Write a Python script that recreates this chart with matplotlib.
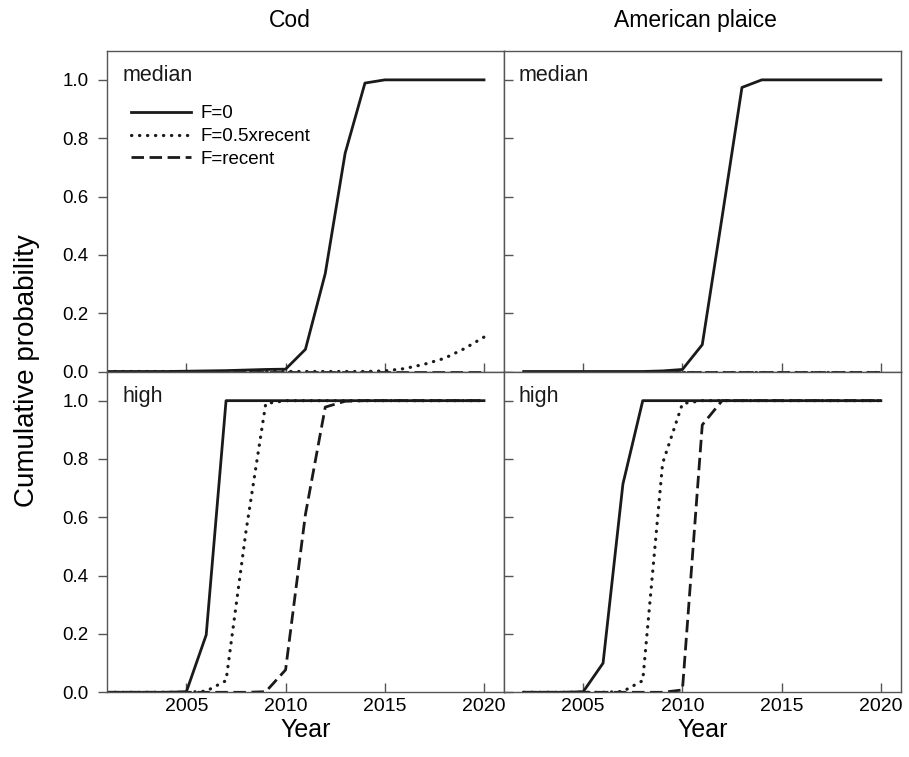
import numpy as np
import matplotlib
matplotlib.use("Agg")
import matplotlib.pyplot as plt

plt.rcParams["font.family"] = ["Liberation Sans", "DejaVu Sans"]

# === data ===
cod_years = np.arange(2001, 2021)
plaice_years = np.arange(2002, 2021)

# Cod, median recruitment
cod_med_f0 = [0, 0, 0, 0, 0.001, 0.002, 0.003, 0.005, 0.007, 0.008,
              0.076, 0.336, 0.748, 0.989, 1, 1, 1, 1, 1, 1]
cod_med_half = [0, 0, 0, 0, 0, 0, 0, 0, 0, 0,
                0, 0, 0, 0, 0.002, 0.010, 0.025, 0.045, 0.078, 0.118]
cod_med_recent = [0] * 20

# Cod, high recruitment
cod_high_f0 = [0, 0, 0, 0, 0.002, 0.197, 1, 1, 1, 1,
               1, 1, 1, 1, 1, 1, 1, 1, 1, 1]
cod_high_half = [0, 0, 0, 0, 0, 0.004, 0.04, 0.55, 0.99, 1,
                 1, 1, 1, 1, 1, 1, 1, 1, 1, 1]
cod_high_recent = [0, 0, 0, 0, 0, 0, 0, 0, 0.002, 0.077,
                   0.61, 0.978, 0.998, 1, 1, 1, 1, 1, 1, 1]

# American plaice, median recruitment
pla_med_f0 = [0, 0, 0, 0, 0, 0, 0, 0.002, 0.007, 0.092,
              0.53, 0.974, 1, 1, 1, 1, 1, 1, 1]
pla_med_half = [0] * 19
pla_med_recent = [0] * 19

# American plaice, high recruitment
pla_high_f0 = [0, 0, 0, 0.002, 0.10, 0.714, 1, 1, 1, 1,
               1, 1, 1, 1, 1, 1, 1, 1, 1]
pla_high_half = [0, 0, 0, 0, 0, 0.003, 0.04, 0.785, 0.99, 1,
                 1, 1, 1, 1, 1, 1, 1, 1, 1]
pla_high_recent = [0, 0, 0, 0, 0, 0, 0, 0, 0.008, 0.917,
                   1, 1, 1, 1, 1, 1, 1, 1, 1]

labels = ["F=0", "F=0.5xrecent", "F=recent"]
styles = [dict(ls="-", lw=2.0),
          dict(ls=(0, (0.1, 2.4)), dash_capstyle="round", lw=2.3),
          dict(ls=(0, (4.5, 2.0)), lw=2.0)]

panels = [
    (0, 0, cod_years, [cod_med_f0, cod_med_half, cod_med_recent], "median"),
    (0, 1, plaice_years, [pla_med_f0, pla_med_half, pla_med_recent], "median"),
    (1, 0, cod_years, [cod_high_f0, cod_high_half, cod_high_recent], "high"),
    (1, 1, plaice_years, [pla_high_f0, pla_high_half, pla_high_recent], "high"),
]

fig, axes = plt.subplots(2, 2, figsize=(9.09, 7.57), dpi=100)
fig.subplots_adjust(left=107 / 909, right=900.7 / 909,
                    top=1 - 50.7 / 757, bottom=1 - 692.3 / 757,
                    wspace=0, hspace=0)

line_col = "#1a1a1a"
spine_col = "#555555"

for r, c, yrs, series, tag in panels:
    ax = axes[r, c]
    # draw the flat-zero series first so the F=0 line sits on top
    for vals, lab, st in list(zip(series, labels, styles))[::-1]:
        ax.plot(yrs, vals, color=line_col, label=lab, **st)
    ax.set_xlim(2001, 2021)
    ax.set_ylim(0, 1.1)
    ax.set_xticks([2005, 2010, 2015, 2020])
    ax.set_yticks([0, 0.2, 0.4, 0.6, 0.8, 1.0])
    for sp in ax.spines.values():
        sp.set_color(spine_col)
        sp.set_linewidth(1.0)
    ax.tick_params(axis="x", direction="in", length=6.5, width=1.0,
                   color=spine_col, labelsize=14, pad=4,
                   labelbottom=(r == 1))
    if c == 0:
        ax.tick_params(axis="y", direction="out", length=6.5, width=1.0,
                       color=spine_col, labelsize=13.5, pad=7)
        ax.set_yticklabels([f"{v:.1f}" for v in ax.get_yticks()])
    else:
        ax.tick_params(axis="y", direction="in", length=6.5, width=1.0,
                       color=spine_col, labelleft=False)
    ax.text(0.038, 0.955, tag, transform=ax.transAxes, ha="left", va="top",
            fontsize=15.5, color="#1a1a1a")
    if r == 1:
        ax.set_xlabel("Year", fontsize=18, labelpad=2)

handles, labs = axes[0, 0].get_legend_handles_labels()
axes[0, 0].legend(handles[::-1], labs[::-1], loc="upper left",
                  bbox_to_anchor=(0.06, 0.83), frameon=False, fontsize=13.5,
                  handlelength=3.2, handletextpad=0.5, labelspacing=0.3,
                  borderpad=0, borderaxespad=0)

axes[0, 0].text(0.46, 1.095, "Cod", transform=axes[0, 0].transAxes,
                ha="center", va="center", fontsize=16.5)
axes[0, 1].text(0.482, 1.095, "American plaice", transform=axes[0, 1].transAxes,
                ha="center", va="center", fontsize=16.5)
fig.text(0.03, 0.51, "Cumulative probability", rotation=90,
         ha="center", va="center", fontsize=20)

plt.savefig("out.png", dpi=100)
